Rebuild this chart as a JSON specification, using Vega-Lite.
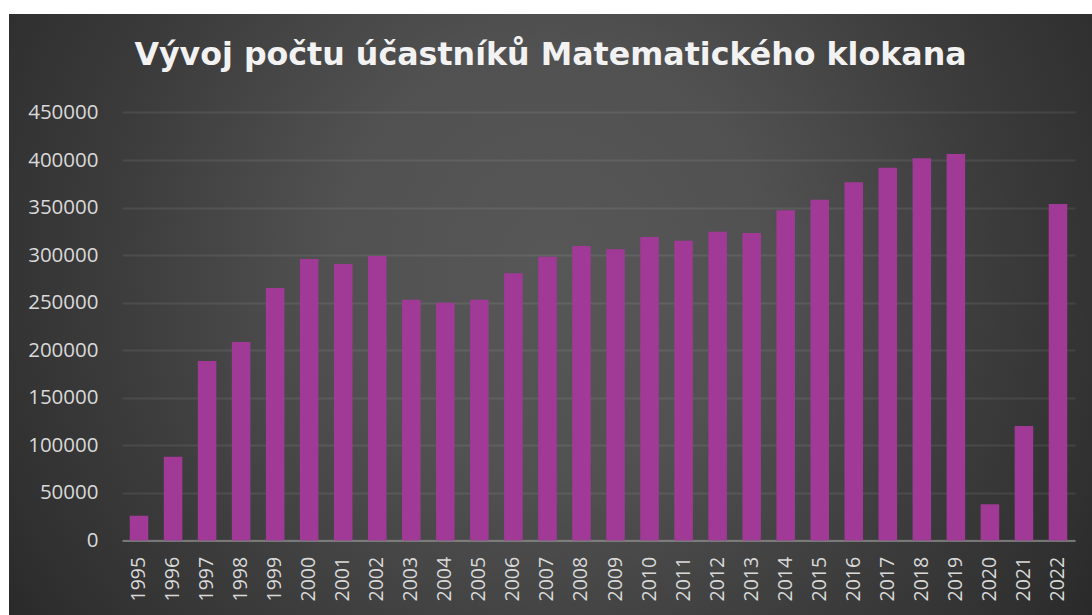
{
  "$schema": "https://vega.github.io/schema/vega-lite/v6.json",
  "width": 1083,
  "height": 601,
  "padding": {"left": 9, "top": 14, "right": 0, "bottom": 0},
  "autosize": {"type": "none"},
  "background": "#ffffff",
  "title": {
    "text": "Vývoj počtu účastníků Matematického klokana",
    "font": "DejaVu Sans",
    "fontSize": 31.7,
    "fontWeight": "bold",
    "color": "#f2f2f2",
    "anchor": "middle",
    "frame": "group",
    "offset": -83,
    "baseline": "alphabetic"
  },
  "data": {
    "values": [
      {"year": "1995", "participants": 26000},
      {"year": "1996", "participants": 88000},
      {"year": "1997", "participants": 188600},
      {"year": "1998", "participants": 208600},
      {"year": "1999", "participants": 265400},
      {"year": "2000", "participants": 295900},
      {"year": "2001", "participants": 290600},
      {"year": "2002", "participants": 299000},
      {"year": "2003", "participants": 253100},
      {"year": "2004", "participants": 249900},
      {"year": "2005", "participants": 253100},
      {"year": "2006", "participants": 280800},
      {"year": "2007", "participants": 298300},
      {"year": "2008", "participants": 309600},
      {"year": "2009", "participants": 306100},
      {"year": "2010", "participants": 319000},
      {"year": "2011", "participants": 315200},
      {"year": "2012", "participants": 324600},
      {"year": "2013", "participants": 323200},
      {"year": "2014", "participants": 347100},
      {"year": "2015", "participants": 358200},
      {"year": "2016", "participants": 376700},
      {"year": "2017", "participants": 391900},
      {"year": "2018", "participants": 401800},
      {"year": "2019", "participants": 406300},
      {"year": "2020", "participants": 38000},
      {"year": "2021", "participants": 120300},
      {"year": "2022", "participants": 353700}
    ]
  },
  "mark": {"type": "bar", "color": "#a03a96"},
  "encoding": {
    "x": {
      "field": "year",
      "type": "ordinal",
      "scale": {"range": [113, 1066], "paddingInner": 0.455, "paddingOuter": 0.2275},
      "axis": {
        "title": null,
        "orient": "bottom",
        "offset": -74.6,
        "labelAngle": -90,
        "labelFont": "Open Sans",
        "labelFontSize": 19.5,
        "labelColor": "#d9d9d9",
        "labelPadding": 16,
        "ticks": false,
        "tickSize": 0,
        "domainColor": "#8a8a8a",
        "domainWidth": 1.5,
        "grid": false
      }
    },
    "y": {
      "field": "participants",
      "type": "quantitative",
      "scale": {"domain": [0, 450000], "range": [526.4, 98.45], "nice": false, "zero": true},
      "axis": {
        "title": null,
        "orient": "left",
        "offset": -113,
        "values": [0, 50000, 100000, 150000, 200000, 250000, 300000, 350000, 400000, 450000],
        "format": "d",
        "ticks": false,
        "tickSize": 0,
        "domain": false,
        "labelPadding": 24,
        "labelFont": "Open Sans",
        "labelFontSize": 20.5,
        "labelColor": "#d9d9d9",
        "gridColor": "#ffffff",
        "gridOpacity": 0.08,
        "gridWidth": 2
      }
    }
  },
  "config": {
    "view": {
      "stroke": null,
      "fill": {
        "gradient": "radial",
        "x1": 0.5, "y1": 0.45, "r1": 0,
        "x2": 0.5, "y2": 0.45, "r2": 0.72,
        "stops": [
          {"offset": 0, "color": "#575757"},
          {"offset": 0.28, "color": "#515151"},
          {"offset": 0.56, "color": "#3c3c3c"},
          {"offset": 0.75, "color": "#303030"},
          {"offset": 1, "color": "#1c1c1c"}
        ]
      }
    }
  }
}
